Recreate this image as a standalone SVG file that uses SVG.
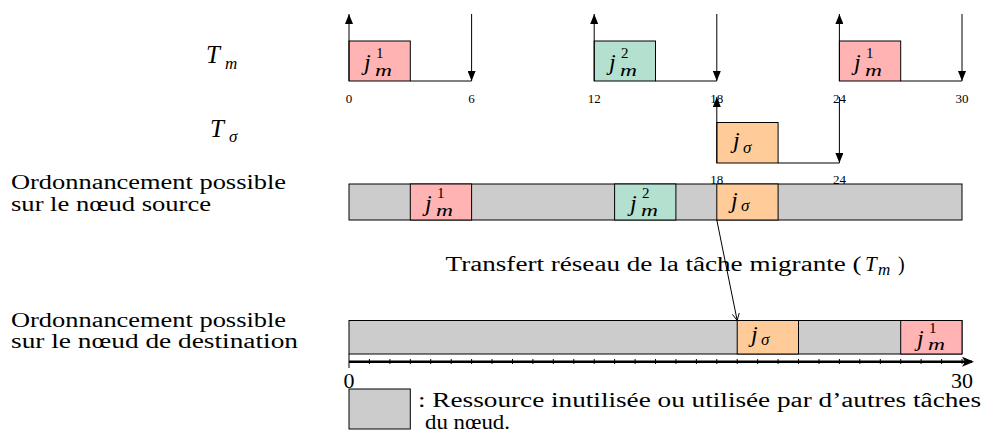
<svg xmlns="http://www.w3.org/2000/svg" width="984" height="433" viewBox="0 0 984 433">
<defs>
<marker id="hd" markerUnits="userSpaceOnUse" markerWidth="10" markerHeight="8" refX="10" refY="4" orient="auto"><path d="M0,0 L10,4 L0,8 Z" fill="#000"/></marker>
<marker id="ax" markerUnits="userSpaceOnUse" markerWidth="12" markerHeight="10" refX="10" refY="5" orient="auto"><path d="M0,0 L12,5 L0,10 L3,5 Z" fill="#000"/></marker>
<marker id="op" markerUnits="userSpaceOnUse" markerWidth="8" markerHeight="8" refX="7" refY="4" orient="auto"><path d="M0,0.5 L7,4 L0,7.5" fill="none" stroke="#000" stroke-width="0.9"/></marker>
</defs>
<style>
text{font-family:'Liberation Serif','DejaVu Serif',serif;fill:#000}
.it{font-style:italic}
.lbl{font-size:20px}
.tk{font-size:13px;text-anchor:middle}
.ax{font-size:22px;text-anchor:middle}
.j{font-size:24px;font-style:italic}
.sup{font-size:15px}
.sub{font-size:17px;font-style:italic}
.box{stroke:#000;stroke-width:1}
.pk{fill:#ffb3b3}.gr{fill:#b3e0cf}.or{fill:#ffcc99}.gy{fill:#cccccc}
.ln{stroke:#000;stroke-width:1;fill:none}
</style>

<g id="labels">
<text class="it" x="206" y="63" font-size="25">T</text>
<text class="sub" x="225" y="69">m</text>
<text class="it" x="210" y="137" font-size="25">T</text>
<text class="sub" x="229" y="142">σ</text>
<text class="lbl" x="11" y="189" textLength="275" lengthAdjust="spacingAndGlyphs">Ordonnancement possible</text>
<text class="lbl" x="11" y="211" textLength="200" lengthAdjust="spacingAndGlyphs">sur le nœud source</text>
<text class="lbl" x="11" y="327" textLength="275" lengthAdjust="spacingAndGlyphs">Ordonnancement possible</text>
<text class="lbl" x="11" y="348" textLength="287" lengthAdjust="spacingAndGlyphs">sur le nœud de destination</text>
</g>

<g id="tm-ticks">
<text class="tk" x="349" y="103">0</text>
<text class="tk" x="471.6" y="103">6</text>
<text class="tk" x="594.2" y="103">12</text>
<text class="tk" x="716.8" y="103">18</text>
<text class="tk" x="839.4" y="103">24</text>
<text class="tk" x="962" y="103">30</text>
<text class="tk" x="716.8" y="184">18</text>
<text class="tk" x="839.4" y="184">24</text>
</g>

<g id="tm-job1">
<rect class="box pk" x="349" y="41" width="61.3" height="40"/>
<text class="j" x="364" y="70">j</text><text class="sup" x="376" y="58">1</text><text class="sub" x="375" y="75.5" textLength="17" lengthAdjust="spacingAndGlyphs">m</text>
</g>
<g id="tm-job2">
<rect class="box gr" x="594.2" y="41" width="61.3" height="40"/>
<text class="j" x="609" y="70">j</text><text class="sup" x="621" y="58">2</text><text class="sub" x="620" y="75.5" textLength="17" lengthAdjust="spacingAndGlyphs">m</text>
</g>
<g id="tm-job3">
<rect class="box pk" x="839.4" y="41" width="61.3" height="40"/>
<text class="j" x="854" y="70">j</text><text class="sup" x="866" y="58">1</text><text class="sub" x="865" y="75.5" textLength="17" lengthAdjust="spacingAndGlyphs">m</text>
</g>
<g id="ts-job">
<rect class="box or" x="716.8" y="122.5" width="61.3" height="40.5"/>
<text class="j" x="733" y="148">j</text><text class="sub" x="743" y="153">σ</text>
</g>

<g id="source-bar">
<rect class="box gy" x="349" y="184" width="613" height="36"/>
<rect class="box pk" x="410.3" y="184" width="61.3" height="36"/>
<text class="j" x="425" y="210.5">j</text><text class="sup" x="437" y="197.5">1</text><text class="sub" x="436" y="216" textLength="17" lengthAdjust="spacingAndGlyphs">m</text>
<rect class="box gr" x="614.6" y="184" width="61.3" height="36"/>
<text class="j" x="630" y="210.5">j</text><text class="sup" x="642" y="197.5">2</text><text class="sub" x="641" y="216" textLength="17" lengthAdjust="spacingAndGlyphs">m</text>
<rect class="box or" x="716.8" y="184" width="61.3" height="36"/>
<text class="j" x="731" y="207.5">j</text><text class="sub" x="741" y="210.5">σ</text>
</g>

<g id="dest-bar">
<rect class="box gy" x="349" y="320.5" width="613" height="33.5"/>
<rect class="box or" x="737.2" y="320.5" width="61.3" height="33.5"/>
<text class="j" x="751" y="342">j</text><text class="sub" x="761" y="345">σ</text>
<rect class="box pk" x="900.7" y="320.5" width="61.3" height="33.5"/>
<text class="j" x="917" y="346">j</text><text class="sup" x="929" y="332.5">1</text><text class="sub" x="928" y="349.5" textLength="17" lengthAdjust="spacingAndGlyphs">m</text>
</g>

<g id="transfer-label">
<text class="lbl" x="445.6" y="271" textLength="416" lengthAdjust="spacingAndGlyphs">Transfert réseau de la tâche migrante (</text>
<text class="it" x="865" y="271" font-size="21">T</text><text class="sub" x="878" y="275" font-size="15">m</text>
<text class="lbl" x="898" y="271">)</text>
</g>

<g id="time-axis">
<line x1="349" y1="361.7" x2="972" y2="361.7" stroke="#000" stroke-width="2.4" marker-end="url(#ax)"/>
<line class="ln" x1="349" y1="354" x2="349" y2="368"/>
<path class="ln" d="M369.4,359v5M389.9,359v5M410.3,359v5M430.7,359v5M451.2,359v5M471.6,359v5M492,359v5M512.5,359v5M532.9,359v5M553.3,359v5M573.8,359v5M594.2,359v5M614.6,359v5M635.1,359v5M655.5,359v5M675.9,359v5M696.4,359v5M716.8,359v5M737.2,359v5M757.7,359v5M778.1,359v5M798.5,359v5M819,359v5M839.4,359v5M859.8,359v5M880.3,359v5M900.7,359v5M921.1,359v5M941.6,359v5M962,359v5"/>
<text class="ax" x="349" y="388">0</text>
<text class="ax" x="962" y="388">30</text>
</g>

<g id="legend">
<rect class="box gy" x="349" y="389" width="61.3" height="40"/>
<text class="lbl" x="418" y="407" textLength="563" lengthAdjust="spacingAndGlyphs">: Ressource inutilisée ou utilisée par d’autres tâches</text>
<text class="lbl" x="425" y="429" textLength="85" lengthAdjust="spacingAndGlyphs">du nœud.</text>
</g>

<g id="connectors">
<line class="ln" x1="410.3" y1="81" x2="471.6" y2="81"/>
<line class="ln" x1="655.5" y1="81" x2="716.8" y2="81"/>
<line class="ln" x1="900.7" y1="81" x2="962" y2="81"/>
<line class="ln" x1="778.1" y1="163" x2="839.4" y2="163"/>
<line class="ln" x1="349" y1="81" x2="349" y2="14" marker-end="url(#hd)"/>
<line class="ln" x1="594.2" y1="81" x2="594.2" y2="14" marker-end="url(#hd)"/>
<line class="ln" x1="839.4" y1="81" x2="839.4" y2="14" marker-end="url(#hd)"/>
<line class="ln" x1="471.6" y1="14" x2="471.6" y2="81" marker-end="url(#hd)"/>
<line class="ln" x1="716.8" y1="14" x2="716.8" y2="81" marker-end="url(#hd)"/>
<line class="ln" x1="962" y1="14" x2="962" y2="81" marker-end="url(#hd)"/>
<line class="ln" x1="716.8" y1="163" x2="716.8" y2="97" marker-end="url(#hd)"/>
<line class="ln" x1="839.4" y1="97" x2="839.4" y2="163" marker-end="url(#hd)"/>
<line class="ln" x1="716.8" y1="220" x2="737.2" y2="320.5" stroke-width="0.8" marker-end="url(#op)"/>
</g>
</svg>
